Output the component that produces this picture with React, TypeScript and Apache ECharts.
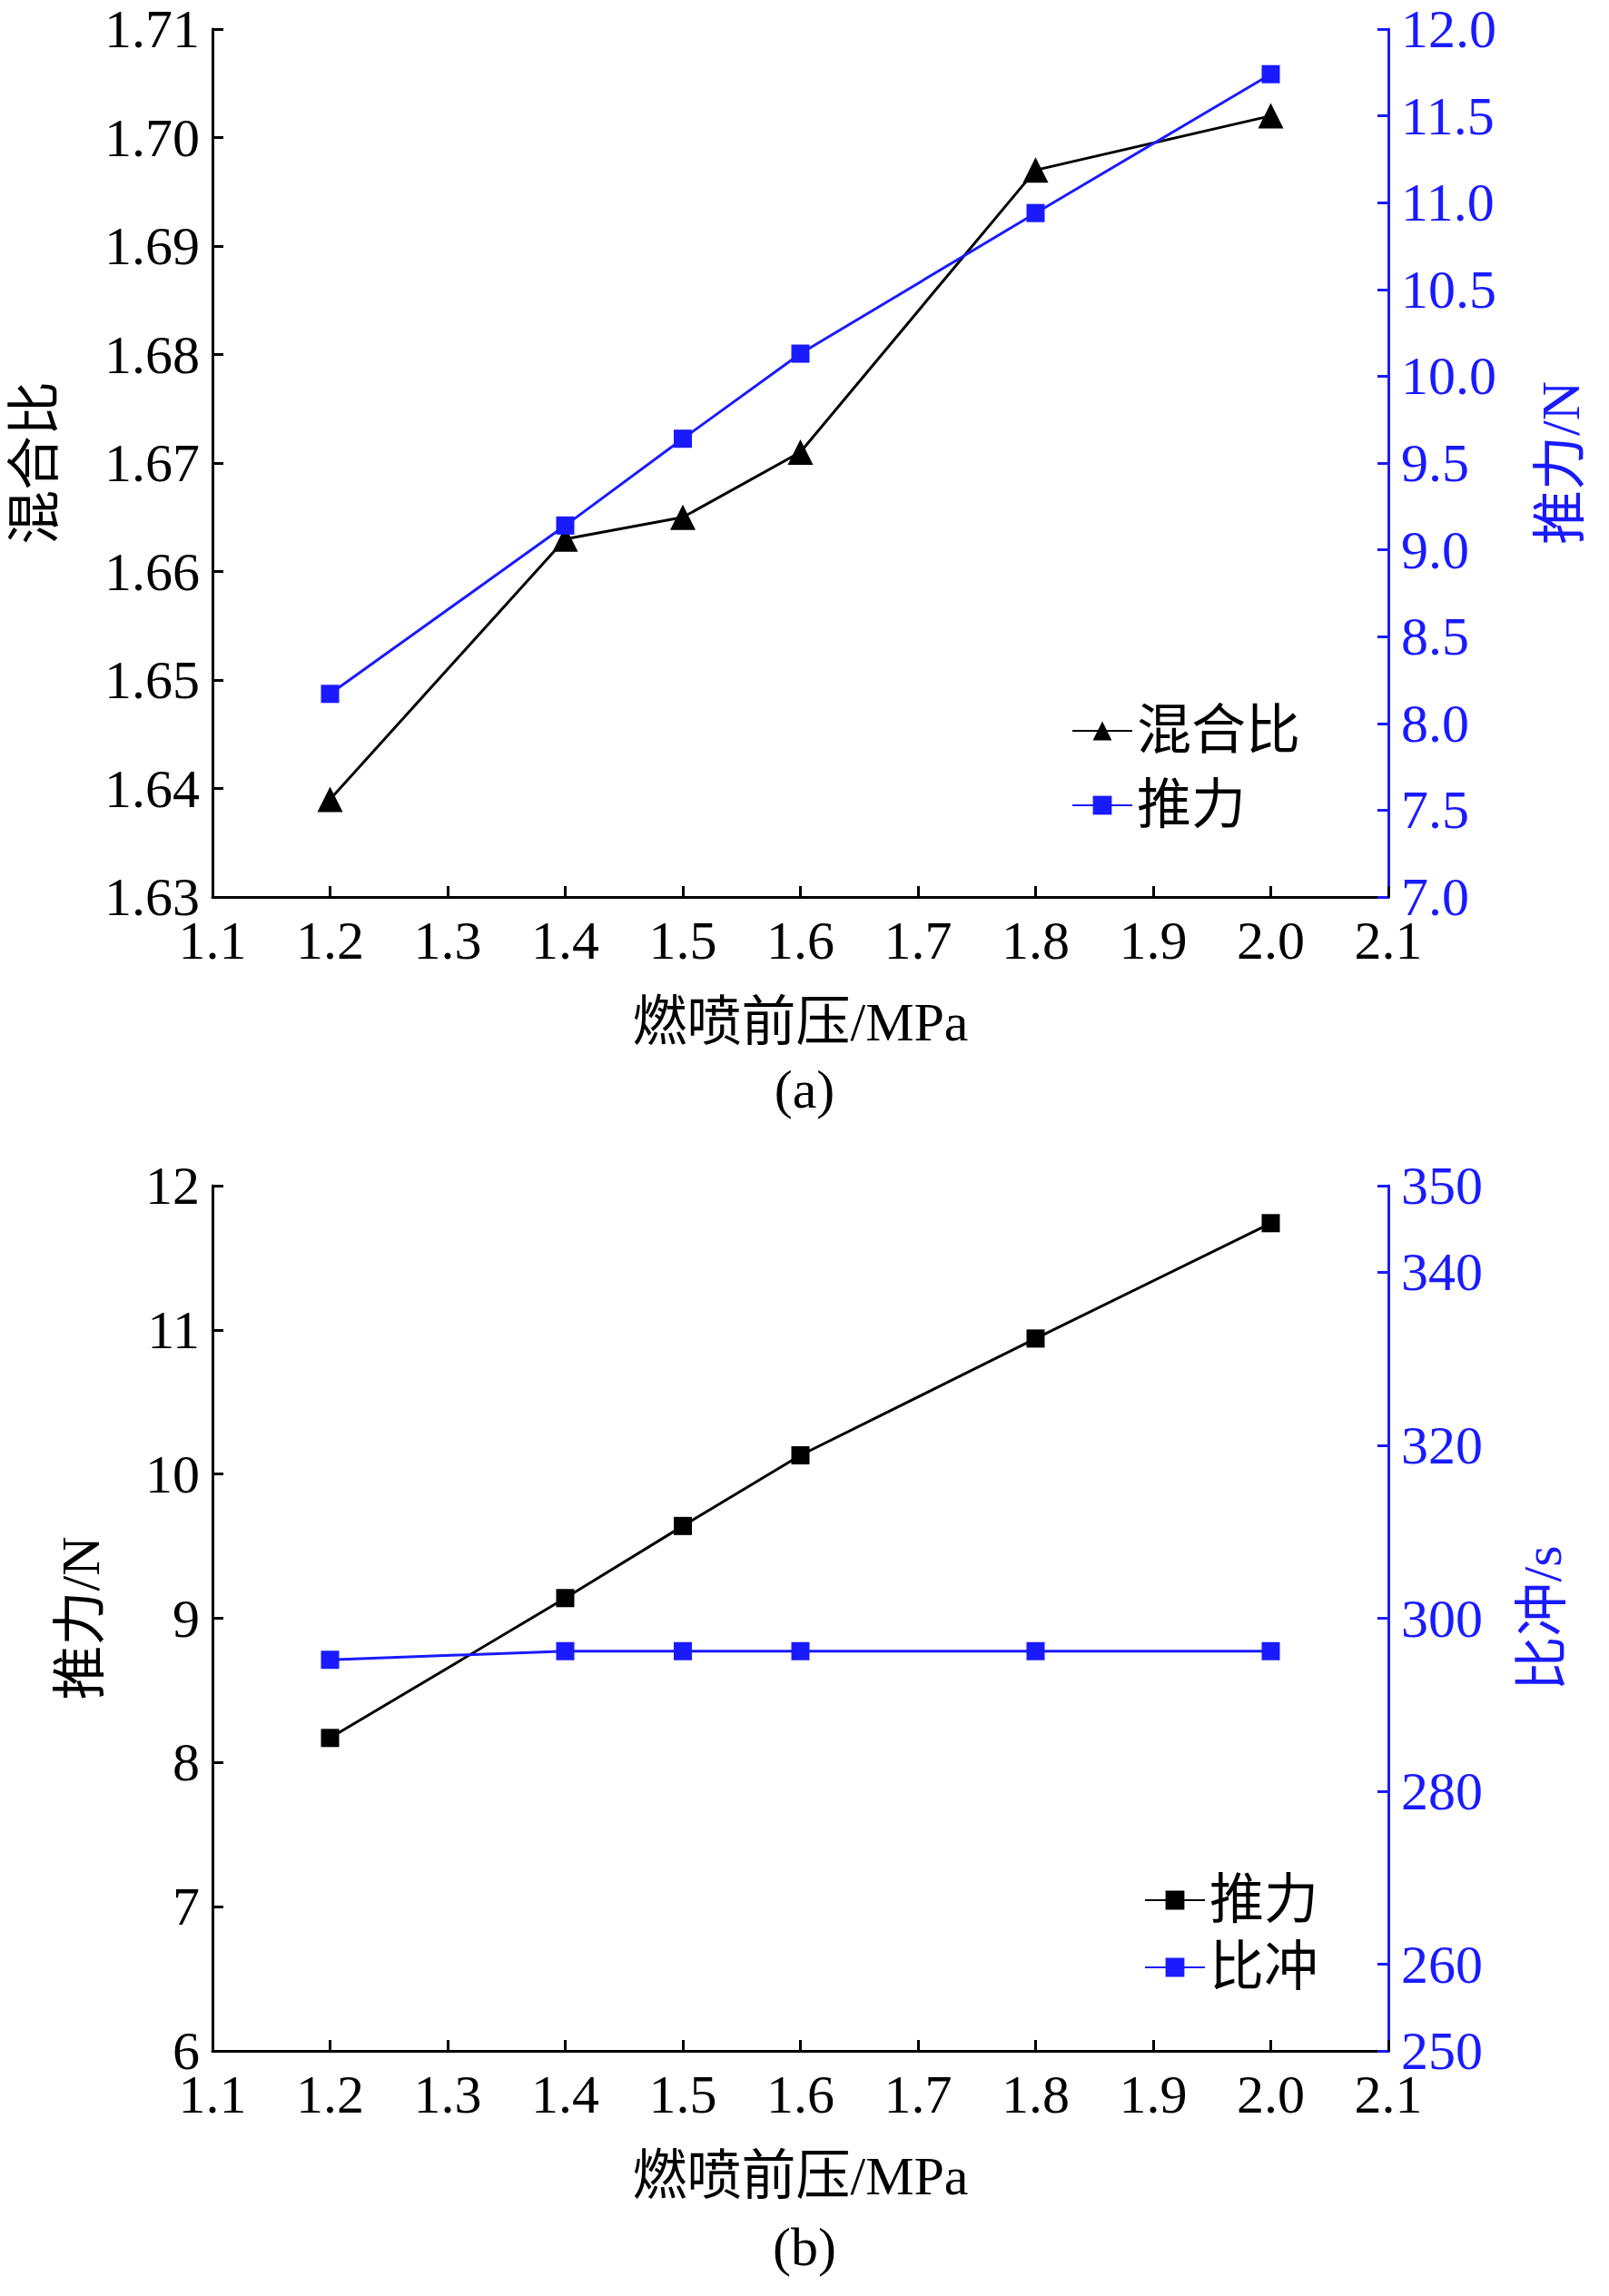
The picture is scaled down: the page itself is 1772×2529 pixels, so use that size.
import React, { useEffect, useRef } from "react";
import * as echarts from "echarts";

const pressure = [1.2, 1.4, 1.5, 1.6, 1.8, 2.0];
const mixRatio = [1.639, 1.663, 1.665, 1.671, 1.697, 1.702];
const thrust = [8.17, 9.14, 9.64, 10.13, 10.94, 11.74];
const impulse = [295.2, 296.2, 296.2, 296.2, 296.2, 296.2];
const impulseTicks = [250, 260, 280, 300, 320, 340, 350];

const SERIF = "'Liberation Serif','Noto Sans CJK SC',serif";
const FS = 60;
const BLUE = "#1a1aff";

export default function App() {
  const ref = useRef<HTMLDivElement>(null);
  useEffect(() => {
    const chart = echarts.init(ref.current!, null, { renderer: "svg" });
    const fmt1 = (v: number) => v.toFixed(1);
    const xAxisBase = (gi: number) => ({
      type: "value", gridIndex: gi, min: 1.1, max: 2.1, interval: 0.1,
      axisLine: { onZero: false, lineStyle: { color: "#000", width: 3 } },
      axisTick: { inside: true, length: 12, lineStyle: { width: 3 } },
      splitLine: { show: false },
      axisLabel: { formatter: fmt1, color: "#000", fontSize: FS, fontFamily: SERIF, margin: 18 },
      name: "燃喷前压/MPa", nameLocation: "middle", nameGap: 108,
      nameTextStyle: { color: "#000", fontSize: FS, fontFamily: SERIF },
    });
    const yLeft = (gi: number, min: number, max: number, interval: number, name: string, formatter: any) => ({
      type: "value", gridIndex: gi, min, max, interval, position: "left",
      axisLine: { show: true, lineStyle: { color: "#000", width: 3 } },
      axisTick: { show: true, inside: true, length: 12, lineStyle: { width: 3 } },
      splitLine: { show: false },
      axisLabel: { formatter, color: "#000", fontSize: FS, fontFamily: SERIF, margin: 14 },
      name, nameLocation: "middle", nameGap: gi === 0 ? 165 : 115,
      nameTextStyle: { color: "#000", fontSize: FS, fontFamily: SERIF },
    });
    chart.setOption({
      animation: false,
      backgroundColor: "#fff",
      grid: [
        { left: 234, right: 1772 - 1529, top: 32, height: 956 },
        { left: 234, right: 1772 - 1529, top: 1306, height: 953 },
      ],
      xAxis: [xAxisBase(0), xAxisBase(1)],
      yAxis: [
        yLeft(0, 1.63, 1.71, 0.01, "混合比", (v: number) => v.toFixed(2)),
        {
          type: "value", gridIndex: 0, min: 7, max: 12, interval: 0.5, position: "right",
          axisLine: { show: true, lineStyle: { color: BLUE, width: 3 } },
          axisTick: { show: true, inside: true, length: 12, lineStyle: { width: 3 } },
          splitLine: { show: false },
          axisLabel: { formatter: fmt1, color: BLUE, fontSize: FS, fontFamily: SERIF, margin: 14 },
          name: "推力/N", nameLocation: "middle", nameGap: 160, nameRotate: 90,
          nameTextStyle: { color: BLUE, fontSize: FS, fontFamily: SERIF },
        },
        yLeft(1, 6, 12, 1, "推力/N", (v: number) => String(v)),
        {
          type: "value", gridIndex: 1, min: 250, max: 350, interval: 10, position: "right",
          axisLine: { show: true, lineStyle: { color: BLUE, width: 3 } },
          axisTick: {
            show: true, inside: true, length: 12, lineStyle: { width: 3 },
            customValues: impulseTicks,
          },
          splitLine: { show: false },
          axisLabel: {
            color: BLUE, fontSize: FS, fontFamily: SERIF, margin: 14,
            customValues: impulseTicks,
            formatter: (v: number) => String(v),
          },
          name: "比冲/s", nameLocation: "middle", nameGap: 140, nameRotate: 90,
          nameTextStyle: { color: BLUE, fontSize: FS, fontFamily: SERIF },
        },
      ],
      legend: [
        {
          orient: "vertical", left: 1175, top: 770, itemGap: 22, itemWidth: 66, itemHeight: 26,
          textStyle: { color: "#000", fontSize: FS, fontFamily: SERIF },
          data: ["混合比", "推力"],
        },
        {
          orient: "vertical", left: 1255, top: 2058, itemGap: 14, itemWidth: 66, itemHeight: 26,
          textStyle: { color: "#000", fontSize: FS, fontFamily: SERIF },
          data: ["推力 ", "比冲"],
        },
      ],
      series: [
        {
          name: "混合比", type: "line", xAxisIndex: 0, yAxisIndex: 0,
          data: pressure.map((p, i) => [p, mixRatio[i]]),
          symbol: "triangle", symbolSize: 28, color: "#000", lineStyle: { width: 3, color: "#000" },
        },
        {
          name: "推力", type: "line", xAxisIndex: 0, yAxisIndex: 1,
          data: pressure.map((p, i) => [p, thrust[i]]),
          symbol: "rect", symbolSize: 20, color: BLUE, lineStyle: { width: 3, color: BLUE },
        },
        {
          name: "推力 ", type: "line", xAxisIndex: 1, yAxisIndex: 2,
          data: pressure.map((p, i) => [p, thrust[i]]),
          symbol: "rect", symbolSize: 20, color: "#000", lineStyle: { width: 3, color: "#000" },
        },
        {
          name: "比冲", type: "line", xAxisIndex: 1, yAxisIndex: 3,
          data: pressure.map((p, i) => [p, impulse[i]]),
          symbol: "rect", symbolSize: 20, color: BLUE, lineStyle: { width: 3, color: BLUE },
        },
      ],
      graphic: [
        { type: "text", left: "center", top: 1170, style: { text: "(a)", fill: "#000", font: `${FS}px ${SERIF}` } },
        { type: "text", left: "center", top: 2445, style: { text: "(b)", fill: "#000", font: `${FS}px ${SERIF}` } },
      ],
    });
    return () => chart.dispose();
  }, []);
  return <div ref={ref} style={{ width: 1772, height: 2529, margin: -8 }} />;
}
